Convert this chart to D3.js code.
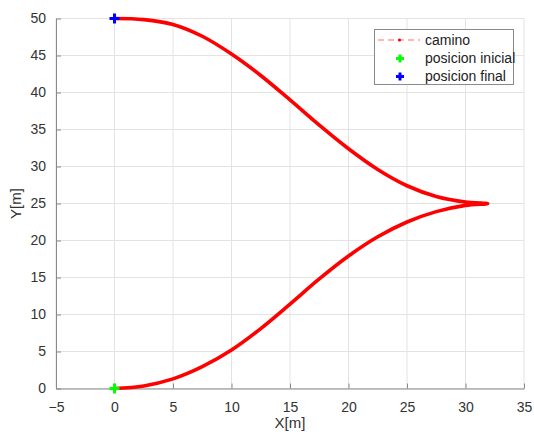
<!DOCTYPE html>
<html><head><meta charset="utf-8">
<script src="https://cdn.jsdelivr.net/npm/d3@7"></script>
<style>body{margin:0;background:#fff}svg{display:block}text{font-family:"Liberation Sans",Arial,sans-serif}</style>
</head><body><svg id="c" width="534" height="434"></svg>
<script>
const pathX = [0,2.5,5,7.5,10,12.5,15,17.5,20,22.5,25,27.5,30,31.9,30,27.5,25,22.5,20,17.5,15,12.5,10,7.5,5,2.5,0];
const pathY = [0,0.35,1.3,2.95,5.2,8.1,11.4,14.8,17.9,20.5,22.5,23.9,24.75,25,25.2,25.95,27.4,29.6,32.4,35.6,39.0,42.3,45.2,47.6,49.2,49.85,50];
const startPos = [0,0];
const endPos = [0,50];
const xTicks = [-5,0,5,10,15,20,25,30,35];
const yTicks = [0,5,10,15,20,25,30,35,40,45,50];
const legendLabels = ["camino","posicion inicial","posicion final"];

const svg = d3.select("#c");
const x = d3.scaleLinear().domain([-5,35]).range([56,524]);
const y = d3.scaleLinear().domain([0,50]).range([388.5,18.5]);

// grid
svg.append("g").selectAll("line").data(xTicks).join("line")
  .attr("x1",d=>x(d)).attr("x2",d=>x(d)).attr("y1",y(0)).attr("y2",y(50))
  .attr("stroke","#e3e3e3").attr("stroke-width",1);
svg.append("g").selectAll("line").data(yTicks).join("line")
  .attr("x1",x(-5)).attr("x2",x(35)).attr("y1",d=>y(d)).attr("y2",d=>y(d))
  .attr("stroke","#e3e3e3").attr("stroke-width",1);

// axes
const xAxis = d3.axisBottom(x).tickValues(xTicks).tickSizeInner(-5).tickSizeOuter(0).tickPadding(10);
const yAxis = d3.axisLeft(y).tickValues(yTicks).tickSizeInner(-5).tickSizeOuter(0).tickPadding(10);
const gx = svg.append("g").attr("transform",`translate(0,${y(0)})`).call(xAxis);
const gy = svg.append("g").attr("transform",`translate(${x(-5)},0)`).call(yAxis);
[gx,gy].forEach(g=>{
  g.select(".domain").attr("stroke","#8a8a8a").attr("stroke-width",1);
  g.selectAll(".tick line").attr("stroke","#8a8a8a");
  g.selectAll(".tick text").attr("fill","#333").style("font-size","14px").style("font-family","'Liberation Sans',Arial,sans-serif");
});
gx.selectAll(".tick text").attr("dy","0.95em");

svg.append("text").attr("x",x(15)).attr("y",428).attr("text-anchor","middle")
  .attr("fill","#333").style("font-size","15px").text("X[m]");
svg.append("text").attr("transform",`translate(21,${y(25)}) rotate(-90)`).attr("text-anchor","middle")
  .attr("fill","#333").style("font-size","15px").text("Y[m]");

// path
const pts = pathX.map((d,i)=>[d,pathY[i]]);
const line = d3.line().x(d=>x(d[0])).y(d=>y(d[1])).curve(d3.curveCatmullRom.alpha(0.5));
svg.append("path").datum(pts).attr("d",line).attr("fill","none")
  .attr("stroke","#ff0000").attr("stroke-width",3.6).attr("stroke-linejoin","round");

function plus(g,cx,cy,color,s){
  g.append("line").attr("x1",cx-s).attr("x2",cx+s).attr("y1",cy).attr("y2",cy).attr("stroke",color).attr("stroke-width",3);
  g.append("line").attr("x1",cx).attr("x2",cx).attr("y1",cy-s).attr("y2",cy+s).attr("stroke",color).attr("stroke-width",3);
}
plus(svg,x(startPos[0]),y(startPos[1]),"#00ff00",5);
plus(svg,x(endPos[0]),y(endPos[1]),"#0000ff",5);

// legend
const lg = svg.append("g");
lg.append("rect").attr("x",374.5).attr("y",29.5).attr("width",139).attr("height",55)
  .attr("fill","#fff").attr("stroke","#8a8a8a").attr("stroke-width",1);
const rowY = [40,58.5,76.5];
lg.append("line").attr("x1",378).attr("x2",420).attr("y1",rowY[0]).attr("y2",rowY[0])
  .attr("stroke","#ff9a9a").attr("stroke-width",1.5).attr("stroke-dasharray","6,4");
lg.append("circle").attr("cx",399.5).attr("cy",rowY[0]).attr("r",1.6).attr("fill","#ff0000");
plus(lg,400,rowY[1],"#00ff00",4);
plus(lg,400,rowY[2],"#0000ff",4);
lg.selectAll("text").data(legendLabels).join("text")
  .attr("x",425).attr("y",(d,i)=>rowY[i]).attr("dy","0.35em")
  .attr("fill","#222").style("font-size","14px").text(d=>d);
</script></body></html>
